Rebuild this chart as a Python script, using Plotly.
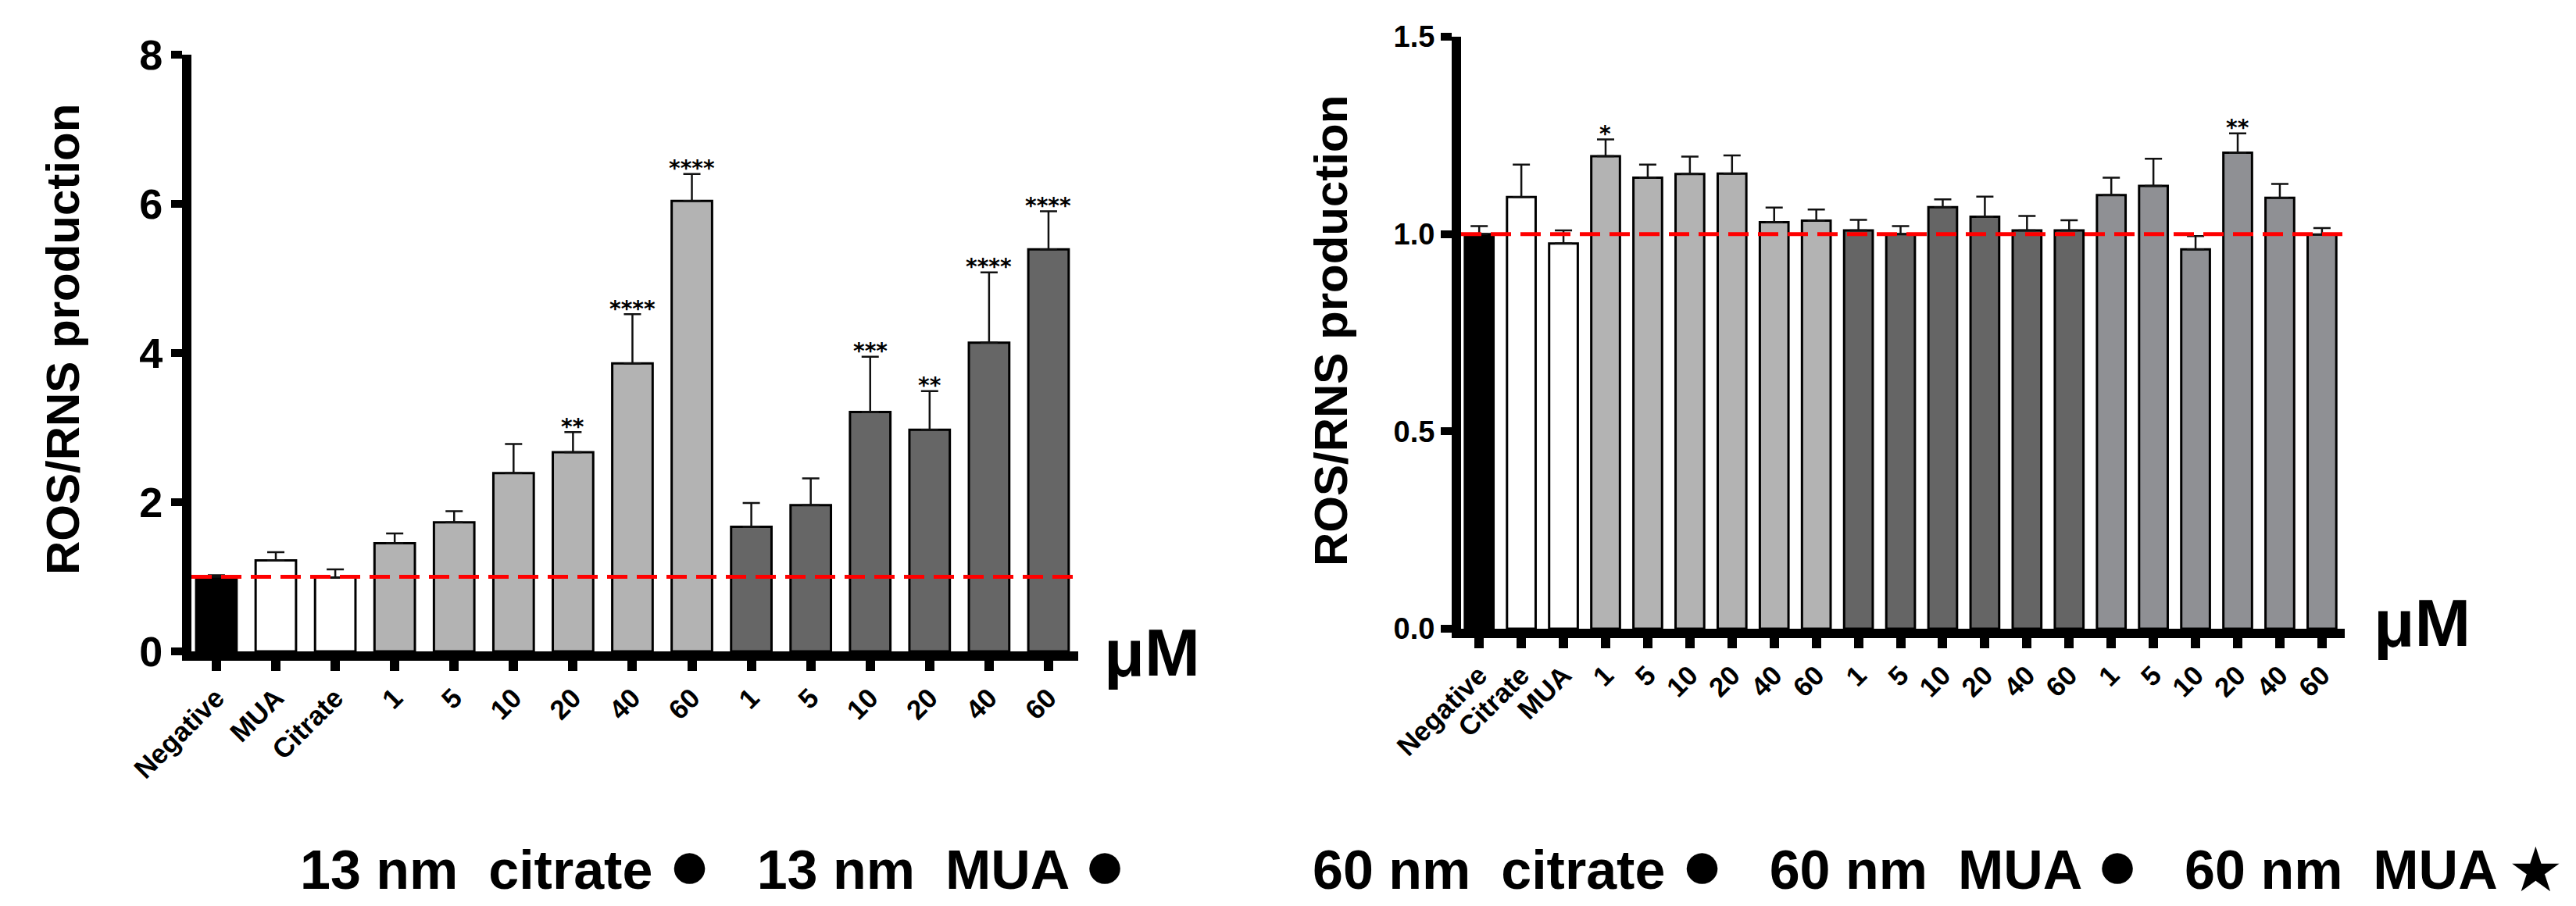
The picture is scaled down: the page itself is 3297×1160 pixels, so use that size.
import plotly.graph_objects as go

FONT = "Liberation Sans, Arial, Helvetica, sans-serif"

# ---------------- data: left panel (13 nm) ----------------
left_labels = ["Negative", "MUA", "Citrate", "1", "5", "10", "20", "40", "60",
               "1", "5", "10", "20", "40", "60"]
left_groups = ["Negative", "MUA", "Citrate"] + ["13 nm citrate"] * 6 + ["13 nm MUA"] * 6
left_values = [1.00, 1.22, 0.99, 1.45, 1.73, 2.39, 2.67, 3.86, 6.04,
               1.67, 1.96, 3.21, 2.97, 4.14, 5.39]
left_errors = [0.02, 0.11, 0.11, 0.13, 0.15, 0.39, 0.27, 0.66, 0.36,
               0.32, 0.36, 0.74, 0.52, 0.94, 0.51]
left_sig = ["", "", "", "", "", "", "**", "****", "****",
            "", "", "***", "**", "****", "****"]

# ---------------- data: right panel (60 nm) ----------------
right_labels = ["Negative", "Citrate", "MUA", "1", "5", "10", "20", "40", "60",
                "1", "5", "10", "20", "40", "60", "1", "5", "10", "20", "40", "60"]
right_groups = (["Negative", "Citrate", "MUA"] + ["60 nm citrate"] * 6
                + ["60 nm MUA"] * 6 + ["60 nm MUA star"] * 6)
right_values = [1.000, 1.094, 0.976, 1.197, 1.143, 1.152, 1.153, 1.030, 1.034,
                1.009, 1.000, 1.068, 1.044, 1.009, 1.009,
                1.099, 1.122, 0.961, 1.206, 1.092, 0.999]
right_errors = [0.020, 0.082, 0.033, 0.043, 0.033, 0.044, 0.046, 0.037, 0.028,
                0.027, 0.020, 0.020, 0.051, 0.037, 0.026,
                0.044, 0.069, 0.034, 0.049, 0.035, 0.016]
right_sig = ["", "", "", "*", "", "", "", "", "",
             "", "", "", "", "", "",
             "", "", "", "**", "", ""]

group_colors = {
    "Negative": "#000000",
    "MUA": "#ffffff",
    "Citrate": "#ffffff",
    "13 nm citrate": "#b3b3b3",
    "13 nm MUA": "#666666",
    "60 nm citrate": "#b3b3b3",
    "60 nm MUA": "#656565",
    "60 nm MUA star": "#8f9094",
}

DOT = '<span style="font-size:92px">●</span>'
left_legend_text = ("13 nm&nbsp;&nbsp;citrate " + DOT
                    + "&nbsp;&nbsp;&nbsp;13 nm&nbsp;&nbsp;MUA " + DOT)
right_legend_text = ("60 nm&nbsp;&nbsp;citrate " + DOT
                     + "&nbsp;&nbsp;&nbsp;60 nm&nbsp;&nbsp;MUA " + DOT
                     + "&nbsp;&nbsp;&nbsp;60 nm&nbsp;&nbsp;MUA ★")

W, H = 3297, 1160


def px_x(p):
    return p / W


def px_y(p):
    return 1 - p / H


fig = go.Figure()


def add_panel(xref, yref, labels, groups, values, errors):
    xs = list(range(len(labels)))
    fig.add_trace(go.Bar(
        x=xs, y=values, width=0.68,
        marker=dict(color=[group_colors[g] for g in groups],
                    line=dict(color="#000000", width=3)),
        error_y=dict(type="data", symmetric=False, array=errors,
                     arrayminus=[0] * len(errors), color="#111111",
                     thickness=2.5, width=11),
        xaxis=xref, yaxis=yref, showlegend=False,
    ))


add_panel("x", "y", left_labels, left_groups, left_values, left_errors)
add_panel("x2", "y2", right_labels, right_groups, right_values, right_errors)

axis_common = dict(showline=True, linecolor="#000000", showgrid=False,
                   zeroline=False, ticks="outside", tickcolor="#000000",
                   automargin=False)

fig.update_layout(
    template="none",
    width=W, height=H,
    margin=dict(l=0, r=0, t=0, b=0, pad=0),
    paper_bgcolor="#ffffff", plot_bgcolor="#ffffff",
    font=dict(family=FONT, color="#000000", weight="bold"),
    bargap=0.3,
    xaxis=dict(domain=[px_x(237), px_x(1372)], anchor="y",
               range=[-0.42, len(left_labels) - 0.5],
               tickvals=list(range(len(left_labels))), ticktext=left_labels,
               tickangle=-45, linewidth=12, tickwidth=12, ticklen=13,
               tickfont=dict(size=35, family=FONT, weight="bold"),
               **axis_common),
    yaxis=dict(domain=[px_y(826), px_y(62)], anchor="x",
               range=[0, 8], tickvals=[0, 2, 4, 6, 8],
               linewidth=12, tickwidth=10, ticklen=14,
               tickfont=dict(size=54, family=FONT, weight="bold"),
               **axis_common),
    xaxis2=dict(domain=[px_x(1862), px_x(2993)], anchor="y2",
                range=[-0.43, len(right_labels) - 0.46],
                tickvals=list(range(len(right_labels))), ticktext=right_labels,
                tickangle=-45, linewidth=12, tickwidth=12, ticklen=13,
                tickfont=dict(size=35, family=FONT, weight="bold"),
                **axis_common),
    yaxis2=dict(domain=[px_y(797), px_y(39)], anchor="x2",
                range=[0, 1.5], tickvals=[0, 0.5, 1.0, 1.5], tickformat=".1f",
                linewidth=12, tickwidth=10, ticklen=14,
                tickfont=dict(size=38, family=FONT, weight="bold"),
                **axis_common),
)

# red dashed reference line at 1.0
for xr, yr in (("x", "y"), ("x2", "y2")):
    fig.add_shape(type="line", xref=f"{xr} domain", yref=yr,
                  x0=0, x1=1, y0=1.0, y1=1.0,
                  line=dict(color="#ff0000", width=5, dash="26px,12px"),
                  layer="above")

annotations = []
# significance stars
for xr, yr, vals, errs, sig in (("x", "y", left_values, left_errors, left_sig),
                                ("x2", "y2", right_values, right_errors, right_sig)):
    for i, s in enumerate(sig):
        if s:
            annotations.append(dict(
                x=i, y=vals[i] + errs[i], xref=xr, yref=yr, text=s,
                showarrow=False, yanchor="middle", yshift=7,
                font=dict(size=28, family="DejaVu Sans", weight="bold", color="#000000")))

# y-axis titles
annotations.append(dict(x=px_x(72), y=px_y(427), xref="paper", yref="paper",
                        text="ROS/RNS production", textangle=-90, showarrow=False,
                        xanchor="center", yanchor="middle",
                        font=dict(size=60, family=FONT, weight="bold")))
annotations.append(dict(x=px_x(1695), y=px_y(416), xref="paper", yref="paper",
                        text="ROS/RNS production", textangle=-90, showarrow=False,
                        xanchor="center", yanchor="middle",
                        font=dict(size=60, family=FONT, weight="bold")))
# µM unit labels
annotations.append(dict(x=px_x(1466), y=px_y(827), xref="paper", yref="paper",
                        text="μM", showarrow=False, xanchor="center", yanchor="middle",
                        font=dict(size=85, family=FONT, weight="bold")))
annotations.append(dict(x=px_x(3092), y=px_y(789), xref="paper", yref="paper",
                        text="μM", showarrow=False, xanchor="center", yanchor="middle",
                        font=dict(size=86, family=FONT, weight="bold")))
# group legends
annotations.append(dict(x=px_x(905), y=px_y(1098), xref="paper", yref="paper",
                        text=left_legend_text, showarrow=False,
                        xanchor="center", yanchor="middle",
                        font=dict(size=70, family=FONT, weight="bold")))
annotations.append(dict(x=px_x(2470), y=px_y(1098), xref="paper", yref="paper",
                        text=right_legend_text, showarrow=False,
                        xanchor="center", yanchor="middle",
                        font=dict(size=70, family=FONT, weight="bold")))

fig.update_layout(annotations=annotations)

fig.write_html("out.html")
